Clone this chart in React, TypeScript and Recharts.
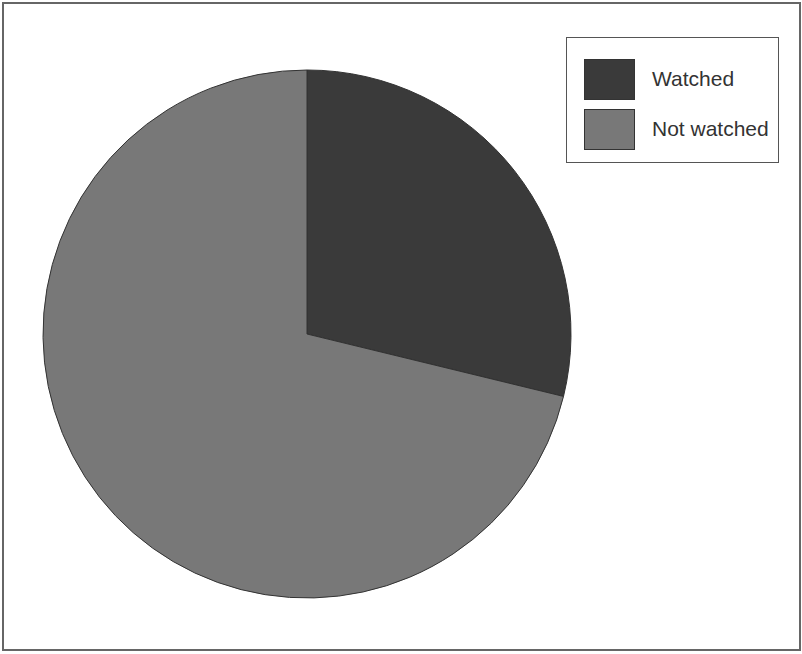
import React from 'react';
import { PieChart, Pie, Cell, Legend } from 'recharts';

const categories = ['Watched', 'Not watched'];
const shares = [28.8, 71.2];
const colors = ['#3a3a3a', '#787878'];

const data = categories.map((name, i) => ({ name, value: shares[i] }));

const LegendBox = (props: any) => {
  const payload = [...(props.payload || [])].sort(
    (a: any, b: any) => categories.indexOf(a.value) - categories.indexOf(b.value)
  );
  return (
    <div
      style={{
        width: 213,
        height: 126,
        border: '1.5px solid #555',
        background: '#fff',
        boxSizing: 'border-box',
        paddingTop: 16,
        paddingLeft: 17,
        fontFamily: '"Liberation Sans", Arial, sans-serif',
        fontSize: 21,
        color: '#333',
      }}
    >
      {payload.map((p: any, i: number) => (
        <div key={i} style={{ display: 'flex', alignItems: 'center', height: 50 }}>
          <div
            style={{
              width: 51,
              height: 41,
              background: p.color,
              border: '1px solid #333',
              boxSizing: 'border-box',
              marginRight: 17,
            }}
          />
          <span>{p.value}</span>
        </div>
      ))}
    </div>
  );
};

export default function App() {
  return (
    <div style={{ position: 'absolute', left: 0, top: 0, width: 802, height: 654, background: '#fff' }}>
      <PieChart width={802} height={654} margin={{ top: 0, right: 0, bottom: 0, left: 0 }}>
        <Pie
          data={data}
          dataKey="value"
          nameKey="name"
          cx={307}
          cy={334}
          outerRadius={264}
          startAngle={90}
          endAngle={-270}
          stroke="#333"
          strokeWidth={1}
          isAnimationActive={false}
        >
          {data.map((d, i) => (
            <Cell key={d.name} fill={colors[i]} />
          ))}
        </Pie>
        <Legend
          layout="vertical"
          verticalAlign="top"
          align="right"
          itemSorter={null}
          content={<LegendBox />}
          wrapperStyle={{ position: 'absolute', left: 566, top: 37, width: 213, height: 126 }}
        />
      </PieChart>
      <div
        style={{
          position: 'absolute',
          left: 2,
          top: 2,
          width: 799,
          height: 649,
          border: '2px solid #666',
          boxSizing: 'border-box',
          pointerEvents: 'none',
        }}
      />
    </div>
  );
}
